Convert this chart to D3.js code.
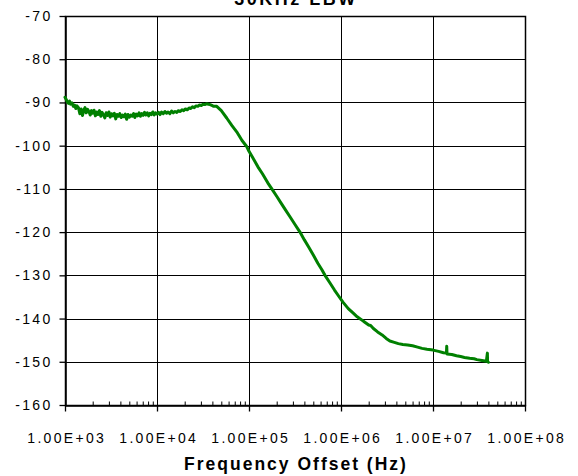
<!DOCTYPE html>
<html>
<head>
<meta charset="utf-8">
<script src="https://cdn.jsdelivr.net/npm/d3@7"></script>
<style>
  html, body { margin: 0; padding: 0; background: #fff; }
  svg { display: block; }
</style>
</head>
<body>
<svg id="chart" width="578" height="476"></svg>
<script>
// ---------------- data ----------------
const chartTitle = "30KHz LBW";
const xAxisTitle = "Frequency Offset (Hz)";
const xTickValues = [1e3, 1e4, 1e5, 1e6, 1e7, 1e8];
const xTickLabels = ["1.00E+03", "1.00E+04", "1.00E+05", "1.00E+06", "1.00E+07", "1.00E+08"];
const yTickValues = [-70, -80, -90, -100, -110, -120, -130, -140, -150, -160];
const yTickLabels = ["-70", "-80", "-90", "-100", "-110", "-120", "-130", "-140", "-150", "-160"];

// frequency offset (Hz)
const freqHz = [
  1000, 1030, 1060, 1090, 1120, 1150, 1190, 1230, 1270, 1310,
  1350, 1400, 1450, 1500, 1550, 1600, 1650, 1700, 1760, 1820,
  1880, 1940, 2000, 2070, 2140, 2210, 2290, 2370, 2450, 2530,
  2620, 2710, 2800, 2900, 3000, 3100, 3200, 3320, 3440, 3560,
  3680, 3810, 3940, 4080, 4220, 4370, 4520, 4680, 4840, 5010,
  5190, 5370, 5560, 5750, 5950, 6160, 6380, 6600, 6830, 7070,
  7320, 7580, 7840, 8120, 8400, 8700, 9000, 9320, 9650, 10000,
  10400, 10800, 11200, 11700, 12200, 12700, 13200, 13800, 14400, 15000,
  15700, 16400, 17100, 17900, 18700, 19500, 20400, 21300, 22300, 23300,
  24300, 25400, 26600, 27800, 29000, 30300, 31700, 33100, 34600, 36200,
  37800, 39500, 41300, 44600, 50000, 57200, 65000, 73500, 84000, 94400,
  100000, 110000, 125000, 140000, 160000, 177000, 200000, 225000, 250000, 280000,
  320000, 358000, 400000, 450000, 500000, 560000, 620000, 670000, 750000, 850000,
  950000, 1050000, 1200000, 1350000, 1500000, 1650000, 1800000, 2000000, 2100000, 2250000,
  2500000, 2800000, 3100000, 3400000, 3800000, 4200000, 4700000, 5300000, 6000000, 6800000,
  7600000, 8600000, 10000000, 11500000, 13000000, 14000000, 14100000, 14200000, 16000000, 18000000,
  20000000, 22000000, 25000000, 28000000, 30000000, 34000000, 38000000, 39000000, 39200000, 40000000
];

// phase noise (dBc/Hz)
const phaseNoise = [
  -88.8, -89.3, -89.9, -90.2, -89.7, -90.4, -90.1, -90.9, -90.6, -91.4,
  -90.8, -91.2, -92.6, -91.5, -93.0, -91.8, -91.2, -92.4, -91.6, -92.1,
  -92.9, -91.9, -92.5, -91.8, -93.1, -92.2, -92.8, -91.9, -93.2, -92.3,
  -92.9, -93.6, -92.4, -93.0, -92.2, -93.4, -92.6, -93.1, -92.5, -93.8,
  -92.8, -93.2, -92.6, -93.5, -92.9, -93.3, -92.7, -93.9, -92.8, -93.4,
  -92.9, -93.2, -92.6, -93.5, -92.7, -93.1, -92.4, -93.2, -92.6, -93.0,
  -92.3, -92.9, -92.4, -93.1, -92.5, -92.8, -92.2, -92.9, -92.4, -92.7,
  -92.3, -92.8, -92.2, -92.6, -92.1, -92.5, -92.2, -92.6, -92.0, -92.4,
  -92.1, -92.3, -91.9, -92.1, -91.7, -91.9, -91.5, -91.7, -91.3, -91.4,
  -91.0, -91.2, -90.8, -90.9, -90.6, -90.7, -90.4, -90.5, -90.3, -90.4,
  -90.5, -90.7, -90.9, -90.9, -91.9, -93.6, -95.3, -96.8, -98.8, -100.2,
  -101.3, -102.8, -104.9, -106.5, -108.6, -110.0, -111.7, -113.4, -114.9, -116.5,
  -118.4, -120.0, -121.8, -123.6, -125.3, -127.2, -128.7, -130.0, -131.6, -133.4,
  -134.9, -136.2, -137.7, -138.7, -139.6, -140.2, -140.8, -141.5, -141.6, -142.3,
  -143.1, -143.8, -144.6, -145.2, -145.5, -145.8, -146.0, -146.1, -146.3, -146.6,
  -146.9, -147.1, -147.3, -147.6, -147.9, -148.0, -146.4, -148.2, -148.3, -148.6,
  -148.8, -149.0, -149.2, -149.3, -149.5, -149.7, -149.9, -148.0, -150.0, -150.1
];

// ---------------- layout ----------------
const svg = d3.select("#chart");
const plot = { left: 65, right: 525, top: 16, bottom: 405 };

const x = d3.scaleLog().domain([1e3, 1e8]).range([plot.left, plot.right]);
const y = d3.scaleLinear().domain([-160, -70]).range([plot.bottom, plot.top]);

const fontFamily = "'Liberation Sans', Arial, sans-serif";

// gridlines
const grid = svg.append("g").attr("stroke", "#000").attr("stroke-width", 1).attr("shape-rendering", "crispEdges");
grid.selectAll("line.h").data(yTickValues).enter().append("line")
  .attr("x1", plot.left).attr("x2", plot.right)
  .attr("y1", d => Math.round(y(d)) + 0.5).attr("y2", d => Math.round(y(d)) + 0.5);
grid.selectAll("line.v").data(xTickValues).enter().append("line")
  .attr("x1", d => Math.round(x(d)) + 0.5).attr("x2", d => Math.round(x(d)) + 0.5)
  .attr("y1", plot.top).attr("y2", plot.bottom);

// border
svg.append("rect")
  .attr("x", plot.left + 0.5).attr("y", plot.top + 0.5)
  .attr("width", plot.right - plot.left).attr("height", plot.bottom - plot.top)
  .attr("fill", "none").attr("stroke", "#000").attr("stroke-width", 1.5);

// x axis: major ticks (down), minor ticks (up)
const xAxis = d3.axisBottom(x)
  .tickValues(xTickValues)
  .tickSize(6)
  .tickSizeOuter(0)
  .tickFormat((d, i) => xTickLabels[i]);
const gx = svg.append("g").attr("transform", `translate(0,${plot.bottom + 0.5})`).call(xAxis);
gx.select(".domain").attr("stroke", "#000").attr("stroke-width", 1.5);
gx.selectAll(".tick line").attr("stroke", "#000").attr("stroke-width", 1.3);
gx.selectAll(".tick text")
  .attr("y", 37).attr("dy", 0).attr("dx", 1.2)
  .attr("fill", "#000")
  .style("font-family", fontFamily).style("font-size", "14px").style("letter-spacing", "2.3px");

const minorTicks = [];
for (let e = 3; e < 8; e++) for (let m = 2; m <= 9; m++) minorTicks.push(m * Math.pow(10, e));
const xMinor = d3.axisBottom(x).tickValues(minorTicks).tickSize(-4).tickSizeOuter(0).tickFormat("");
const gxm = svg.append("g").attr("transform", `translate(0,${plot.bottom + 0.5})`).call(xMinor);
gxm.select(".domain").remove();
gxm.selectAll(".tick line").attr("stroke", "#000").attr("stroke-width", 1);

// y axis
const yAxis = d3.axisLeft(y).tickValues(yTickValues).tickSize(6).tickSizeOuter(0).tickPadding(10)
  .tickFormat((d, i) => yTickLabels[i]);
const gy = svg.append("g").attr("transform", `translate(${plot.left + 0.5},0)`).call(yAxis);
gy.select(".domain").attr("stroke", "#000").attr("stroke-width", 1.5);
gy.selectAll(".tick line").attr("stroke", "#000").attr("stroke-width", 1.3);
gy.selectAll(".tick text")
  .attr("fill", "#000").attr("dx", 3)
  .style("font-family", fontFamily).style("font-size", "14px").style("letter-spacing", "2.3px");

// data line
const data = freqHz.map((f, i) => ({ f, v: phaseNoise[i] }));
const line = d3.line().x(d => x(d.f)).y(d => y(d.v));
svg.append("path")
  .datum(data)
  .attr("d", line)
  .attr("fill", "none")
  .attr("stroke", "#008000")
  .attr("stroke-width", 3)
  .attr("stroke-linejoin", "round")
  .attr("stroke-linecap", "round");

// titles
svg.append("text")
  .attr("x", (plot.left + plot.right) / 2 + 1).attr("y", 5)
  .attr("text-anchor", "middle")
  .style("font-family", fontFamily).style("font-weight", "bold")
  .style("font-size", "18px").style("letter-spacing", "2.5px")
  .text(chartTitle);

svg.append("text")
  .attr("x", (plot.left + plot.right) / 2 + 1).attr("y", 470)
  .attr("text-anchor", "middle")
  .style("font-family", fontFamily).style("font-weight", "bold")
  .style("font-size", "17.5px").style("letter-spacing", "2px")
  .text(xAxisTitle);
</script>
</body>
</html>
